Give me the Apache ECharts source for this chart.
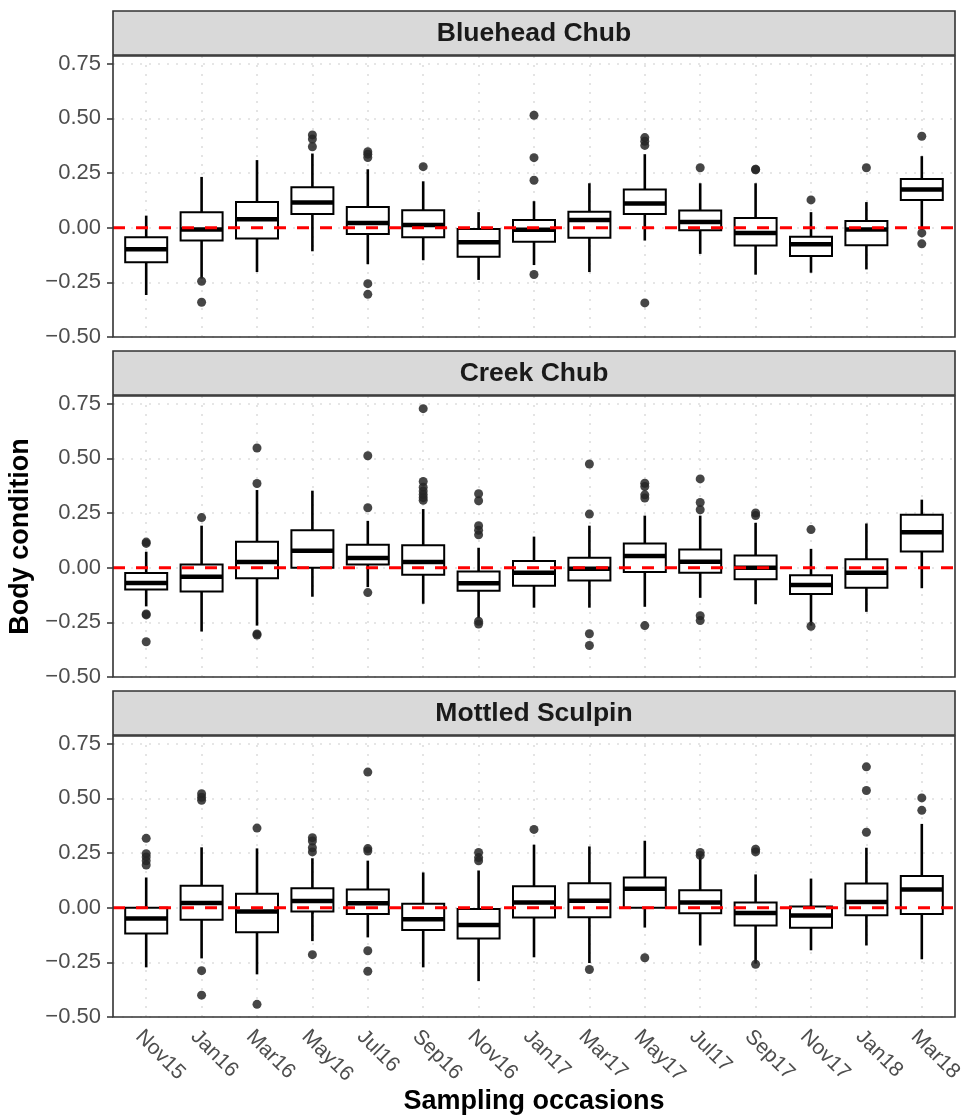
<!DOCTYPE html>
<html>
<head>
<meta charset="utf-8">
<title>Body condition</title>
<script src="https://cdn.jsdelivr.net/npm/echarts@6/dist/echarts.min.js"></script>
<style>
    html, body { margin: 0; padding: 0; background: #fff; }
    #chart { width: 966px; height: 1115px; }
</style>
</head>
<body>
<div id="chart"></div>
<script>
'use strict';

var occasions = ['Nov15', 'Jan16', 'Mar16', 'May16', 'Jul16', 'Sep16', 'Nov16', 'Jan17',
    'Mar17', 'May17', 'Jul17', 'Sep17', 'Nov17', 'Jan18', 'Mar18'];

var species = ['Bluehead Chub', 'Creek Chub', 'Mottled Sculpin'];

// [lower whisker, Q1, median, Q3, upper whisker]
var blueheadBoxes = [
    [-0.308, -0.158, -0.099, -0.044, 0.055],
    [-0.233, -0.059, -0.008, 0.070, 0.232],
    [-0.203, -0.049, 0.038, 0.117, 0.309],
    [-0.108, 0.062, 0.115, 0.185, 0.339],
    [-0.167, -0.029, 0.021, 0.094, 0.267],
    [-0.149, -0.044, 0.012, 0.080, 0.212],
    [-0.239, -0.133, -0.067, -0.006, 0.071],
    [-0.171, -0.064, -0.009, 0.035, 0.121],
    [-0.203, -0.046, 0.035, 0.073, 0.203],
    [-0.059, 0.062, 0.111, 0.174, 0.336],
    [-0.120, -0.012, 0.026, 0.079, 0.203],
    [-0.215, -0.082, -0.024, 0.044, 0.203],
    [-0.206, -0.130, -0.076, -0.041, 0.071],
    [-0.191, -0.080, -0.008, 0.030, 0.117],
    [-0.009, 0.126, 0.174, 0.223, 0.327]
];
// [occasion index, value]
var blueheadOutliers = [
    [1, -0.245], [1, -0.341], [3, 0.424], [3, 0.405], [3, 0.370], [4, 0.347], [4, 0.336],
    [4, 0.321], [4, -0.256], [4, -0.305], [5, 0.279], [7, 0.514], [7, 0.320], [7, 0.217],
    [7, -0.214], [9, 0.412], [9, 0.395], [9, 0.376], [9, -0.344], [10, 0.274], [11, 0.267],
    [11, 0.265], [12, 0.127], [13, 0.274], [14, 0.418], [14, -0.024], [14, -0.074]
];

var creekBoxes = [
    [-0.177, -0.100, -0.070, -0.024, 0.073],
    [-0.292, -0.109, -0.041, 0.014, 0.192],
    [-0.265, -0.048, 0.026, 0.118, 0.355],
    [-0.133, 0.000, 0.077, 0.171, 0.352],
    [-0.089, 0.015, 0.044, 0.105, 0.214],
    [-0.165, -0.032, 0.026, 0.103, 0.268],
    [-0.232, -0.106, -0.071, -0.017, 0.091],
    [-0.183, -0.083, -0.023, 0.030, 0.142],
    [-0.183, -0.059, -0.005, 0.045, 0.192],
    [-0.179, -0.020, 0.053, 0.111, 0.238],
    [-0.138, -0.023, 0.027, 0.083, 0.238],
    [-0.167, -0.053, 0.000, 0.056, 0.205],
    [-0.265, -0.121, -0.079, -0.035, 0.086],
    [-0.202, -0.092, -0.023, 0.038, 0.202],
    [-0.094, 0.074, 0.162, 0.242, 0.311]
];
var creekOutliers = [
    [0, 0.117], [0, 0.111], [0, -0.212], [0, -0.216], [0, -0.339], [1, 0.229], [2, 0.547],
    [2, 0.385], [2, -0.303], [2, -0.308], [4, 0.512], [4, 0.274], [4, -0.114], [5, 0.727],
    [5, 0.394], [5, 0.368], [5, 0.350], [5, 0.334], [5, 0.320], [5, 0.308], [6, 0.338],
    [6, 0.306], [6, 0.192], [6, 0.171], [6, 0.150], [6, -0.245], [6, -0.258], [8, 0.474],
    [8, 0.245], [8, -0.302], [8, -0.356], [9, 0.386], [9, 0.371], [9, 0.333], [9, 0.318],
    [9, -0.265], [10, 0.406], [10, 0.298], [10, 0.265], [10, -0.220], [10, -0.242],
    [11, 0.250], [11, 0.238], [12, 0.174], [12, -0.268]
];

var sculpinBoxes = [
    [-0.273, -0.118, -0.050, 0.000, 0.138],
    [-0.232, -0.055, 0.021, 0.100, 0.276],
    [-0.305, -0.112, -0.018, 0.064, 0.271],
    [-0.153, -0.018, 0.030, 0.089, 0.226],
    [-0.136, -0.029, 0.020, 0.083, 0.215],
    [-0.273, -0.102, -0.053, 0.018, 0.161],
    [-0.336, -0.141, -0.079, -0.006, 0.170],
    [-0.227, -0.045, 0.024, 0.098, 0.288],
    [-0.253, -0.044, 0.032, 0.112, 0.280],
    [-0.091, 0.000, 0.086, 0.138, 0.306],
    [-0.173, -0.026, 0.024, 0.080, 0.244],
    [-0.256, -0.082, -0.024, 0.024, 0.152],
    [-0.195, -0.092, -0.036, 0.005, 0.133],
    [-0.173, -0.035, 0.026, 0.111, 0.274],
    [-0.236, -0.029, 0.083, 0.145, 0.383]
];
var sculpinOutliers = [
    [0, 0.317], [0, 0.247], [0, 0.232], [0, 0.214], [0, 0.195], [1, 0.521], [1, 0.505],
    [1, 0.491], [1, -0.288], [1, -0.400], [2, 0.364], [2, -0.442], [3, 0.320], [3, 0.305],
    [3, 0.274], [3, 0.255], [3, -0.215], [4, 0.620], [4, 0.270], [4, 0.259], [4, -0.197],
    [4, -0.291], [6, 0.252], [6, 0.229], [6, 0.214], [7, 0.358], [8, -0.283], [9, -0.229],
    [10, 0.252], [10, 0.239], [11, 0.267], [11, 0.255], [11, -0.259], [13, 0.644],
    [13, 0.536], [13, 0.345], [14, 0.502], [14, 0.445]
];

var yTicks = [-0.5, -0.25, 0, 0.25, 0.5, 0.75];
var yMin = -0.5, yMax = 0.785;
// horizontal reference at zero, across the whole panel
var refLine = [[0, 0], [1, 0]];

var panelBoxes = [blueheadBoxes, creekBoxes, sculpinBoxes];
var panelOutliers = [blueheadOutliers, creekOutliers, sculpinOutliers];

// layout (px)
var panelTops = [56, 396, 736],
    panelHeight = 281,
    frameLeft = 113, frameRight = 11,
    frameWidth = 966 - 113 - 11,
    bandPad = 5.5,
    boxWidth = 42,
    textFont = 'Liberation Sans, Arial, Helvetica, sans-serif';

var myChart = echarts.init(document.getElementById('chart'), null, { renderer: 'canvas' });

var grids = [], xAxes = [], yAxes = [], series = [], graphics = [];

var dotted = { color: '#dedede', width: 1.6, type: [2, 7] };

/**
 * ggplot 风格的箱线图：无须线端帽，中位数粗线
 * 数据格式 [index, min, q1, median, q3, max]
 */
function renderBox(params, api) {
    var i = api.value(0),
        lo = api.coord([i, api.value(1)]),
        q1 = api.coord([i, api.value(2)]),
        md = api.coord([i, api.value(3)]),
        q3 = api.coord([i, api.value(4)]),
        hi = api.coord([i, api.value(5)]),
        x = lo[0], half = boxWidth / 2;

    return {
        type: 'group',
        children: [{
            type: 'line',
            shape: { x1: x, y1: hi[1], x2: x, y2: q3[1] },
            style: { stroke: '#000', lineWidth: 2.6 }
        }, {
            type: 'line',
            shape: { x1: x, y1: q1[1], x2: x, y2: lo[1] },
            style: { stroke: '#000', lineWidth: 2.6 }
        }, {
            type: 'rect',
            shape: { x: x - half, y: q3[1], width: boxWidth, height: q1[1] - q3[1] },
            style: { fill: '#fff', stroke: '#000', lineWidth: 2 }
        }, {
            type: 'line',
            shape: { x1: x - half, y1: md[1], x2: x + half, y2: md[1] },
            style: { stroke: '#000', lineWidth: 4.5 }
        }]
    };
}

panelBoxes.forEach(function (boxes, p) {
    var isBottom = p === panelBoxes.length - 1;
    var frameIdx = p * 2, dataIdx = p * 2 + 1;

    // 面板外框区域 + 横向网格线 + y 轴
    grids.push({
        left: frameLeft, right: frameRight, top: panelTops[p], height: panelHeight,
        outerBoundsMode: 'none', containLabel: false
    });
    // 箱线图所在的 grid，左右各留 0.1 个类目宽度（ggplot 的扩展）
    grids.push({
        left: frameLeft + bandPad, right: frameRight + bandPad,
        top: panelTops[p], height: panelHeight,
        outerBoundsMode: 'none', containLabel: false
    });

    xAxes.push({ gridIndex: frameIdx, type: 'value', min: 0, max: 1, show: false });
    yAxes.push({
        gridIndex: frameIdx, type: 'value', min: yMin, max: yMax, interval: 0.25,
        axisLine: { show: false },
        axisTick: { show: true, length: 6, customValues: yTicks, lineStyle: { color: '#333', width: 1.5 } },
        axisLabel: {
            customValues: yTicks, color: '#4d4d4d', fontSize: 22, fontFamily: textFont, margin: 12,
            formatter: function (v) { return v.toFixed(2).replace('-', '\u2212'); }
        },
        splitLine: { show: true, lineStyle: dotted },
        name: p === 1 ? 'Body condition' : '',
        nameLocation: 'middle', nameGap: 76,
        nameTextStyle: { fontSize: 27, fontWeight: 'bold', color: '#000', fontFamily: textFont }
    });

    xAxes.push({
        gridIndex: dataIdx, type: 'category', data: occasions, boundaryGap: true,
        axisLine: { show: false },
        axisTick: { show: isBottom, alignWithLabel: true, length: 6, lineStyle: { color: '#333', width: 1.5 } },
        axisLabel: {
            show: isBottom, rotate: -45, color: '#4d4d4d', fontSize: 21, fontFamily: textFont,
            margin: 9, verticalAlign: 'top', hideOverlap: false
        },
        splitLine: { show: true, alignWithLabel: true, lineStyle: dotted },
        name: isBottom ? 'Sampling occasions' : '',
        nameLocation: 'middle', nameGap: 63,
        nameTextStyle: { fontSize: 27, fontWeight: 'bold', color: '#000', fontFamily: textFont }
    });
    yAxes.push({ gridIndex: dataIdx, type: 'value', min: yMin, max: yMax, show: false });

    series.push({
        type: 'custom', xAxisIndex: dataIdx, yAxisIndex: dataIdx, z: 2,
        data: boxes.map(function (b, i) { return [i].concat(b); }),
        renderItem: renderBox
    });

    series.push({
        type: 'scatter', xAxisIndex: dataIdx, yAxisIndex: dataIdx,
        data: panelOutliers[p], symbolSize: 9, z: 3,
        itemStyle: { color: '#262626', opacity: 0.85 }
    });

    series.push({
        type: 'line', xAxisIndex: frameIdx, yAxisIndex: frameIdx, z: 10,
        data: refLine, showSymbol: false, silent: true,
        lineStyle: { color: '#ff0000', width: 3, type: [12, 11] }
    });

    // 面板边框画在最上层
    graphics.push({
        type: 'rect', z: 100,
        shape: { x: frameLeft, y: panelTops[p], width: frameWidth, height: panelHeight },
        style: { fill: 'none', stroke: '#333', lineWidth: 1.6 }
    });

    // facet 标题条
    graphics.push({
        type: 'group',
        children: [{
            type: 'rect',
            shape: { x: frameLeft, y: panelTops[p] - 45, width: frameWidth, height: 44 },
            style: { fill: '#d9d9d9', stroke: '#333', lineWidth: 1.6 }
        }, {
            type: 'text',
            x: frameLeft + frameWidth / 2,
            y: panelTops[p] - 22,
            style: {
                text: species[p], fill: '#1a1a1a', font: 'bold 26.5px ' + textFont,
                align: 'center', verticalAlign: 'middle'
            }
        }]
    });
});

var option = {
    animation: false,
    backgroundColor: '#fff',
    grid: grids,
    xAxis: xAxes,
    yAxis: yAxes,
    series: series,
    graphic: graphics
};

myChart.setOption(option);
</script>
</body>
</html>
